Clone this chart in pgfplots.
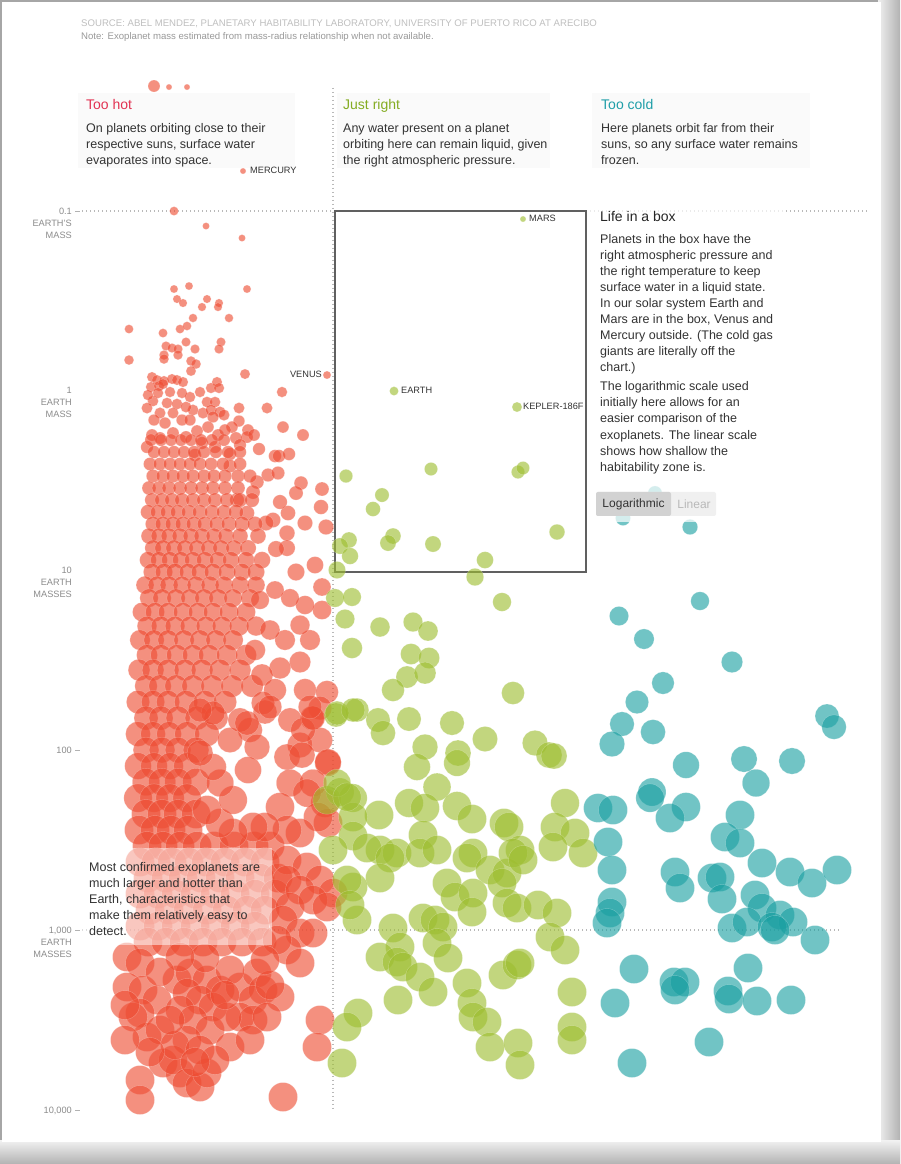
\documentclass[border=0pt]{standalone}
\usepackage{pgfplots}
\pgfplotsset{compat=1.18}
\usepackage{pgfplotstable}
\usepackage{fontspec}
\setmainfont{Liberation Sans}
\definecolor{redc}{RGB}{238,76,50}
\definecolor{greenc}{RGB}{158,190,48}
\definecolor{tealc}{RGB}{26,160,162}
\definecolor{hotc}{RGB}{226,50,82}
\definecolor{rightc}{RGB}{132,172,34}
\definecolor{coldc}{RGB}{30,158,168}
\definecolor{txt}{RGB}{51,51,51}
\definecolor{tickc}{RGB}{140,140,140}
\pgfplotsset{
  planet/.style={scatter, only marks, mark=*,
    scatter/use mapped color={draw=white, fill=#1},
    visualization depends on={3.5+11*(min(1,max(0.001,(\thisrow{py}-211)/600)))^1.5 \as \rad},
    scatter/@pre marker code/.append style={/tikz/mark size=\rad},
    mark options={fill opacity=0.62, draw opacity=0.3, line width=0.4pt}},
  fixedpl/.style 2 args={only marks, mark=*, mark size=#2,
    mark options={fill=#1, draw=white, fill opacity=0.62, draw opacity=0.3, line width=0.4pt}},
}
\tikzset{pix/.style={x=1pt,y=-1pt,yshift=1164pt}}
% px = horizontal position (left = close/hot), py = vertical position on the log mass scale
% log10(mass in Earth masses) = (py-390)/180
\pgfplotstableread[row sep=\\]{
px py\\
174 289\\ 189 286\\ 247 289\\ 177 299\\ 183 303\\ 202 307\\ 207 299\\ 219 303\\ 218 307\\ 193 318\\
229 318\\ 129 329\\ 163 333\\ 180 329\\ 187 326\\ 186 342\\ 166 346\\ 172 348\\ 178 349\\ 195 349\\
221 342\\ 219 349\\ 164 355\\ 178 355\\ 164 359\\ 129 360\\ 191 361\\ 196 364\\ 191 371\\ 245 374\\
152 377\\ 157 380\\ 164 381\\ 172 379\\ 177 380\\ 183 382\\ 151 387\\ 159 386\\ 163 384\\ 211 388\\
217 382\\ 219 388\\ 282 392\\ 190 397\\ 153 401\\ 167 403\\ 177 404\\ 207 402\\ 215 402\\ 239 408\\
267 408\\ 193 410\\ 203 413\\ 211 410\\ 220 412\\ 224 415\\ 213 417\\ 160 413\\ 173 413\\ 154 420\\
182 420\\ 190 420\\ 239 421\\ 283 427\\ 303 435\\ 232 427\\ 248 430\\ 247 437\\ 254 435\\ 236 438\\
208 427\\ 218 435\\ 197 431\\ 173 433\\ 147 447\\ 259 449\\ 275 456\\ 279 456\\ 289 454\\ 230 454\\
215 447\\ 202 443\\ 230 466\\ 268 475\\ 301 483\\ 278 473\\ 257 482\\ 322 489\\ 296 493\\ 321 507\\
305 523\\ 326 527\\ 288 513\\ 280 502\\ 273 520\\ 287 533\\ 287 548\\ 276 549\\ 315 565\\ 296 572\\
266 523\\ 253 492\\ 247 513\\ 237 500\\ 148 395\\ 158 393\\ 170 392\\ 182 393\\ 200 392\\ 147 408\\
186 407\\ 165 423\\ 152 435\\ 160 438\\ 186 437\\ 225 430\\ 195 455\\ 240 445\\
151 440\\ 161 440\\ 171 440\\ 181 440\\ 191 440\\ 201 440\\ 212 440\\ 224 440\\
154 452\\ 164 452\\ 174 452\\ 184 452\\ 194 452\\ 204 452\\ 216 452\\ 228 452\\ 240 452\\
150 464\\ 160 464\\ 170 464\\ 180 464\\ 190 464\\ 200 464\\ 211 464\\ 223 464\\ 240 464\\
153 476\\ 163 476\\ 173 476\\ 183 476\\ 193 476\\ 204 476\\ 214 476\\ 225 476\\ 238 476\\ 250 476\\
149 488\\ 159 488\\ 169 488\\ 180 488\\ 191 488\\ 202 488\\ 213 488\\ 225 488\\ 238 488\\
152 500\\ 162 500\\ 172 500\\ 182 500\\ 193 500\\ 204 500\\ 215 500\\ 227 500\\ 240 500\\ 252 500\\
148 512\\ 158 512\\ 168 512\\ 178 512\\ 189 512\\ 200 512\\ 212 512\\ 224 512\\ 236 512\\
153 524\\ 163 524\\ 173 524\\ 183 524\\ 194 524\\ 205 524\\ 217 524\\ 229 524\\ 242 524\\ 255 524\\
149 536\\ 159 536\\ 169 536\\ 180 536\\ 191 536\\ 202 536\\ 214 536\\ 226 536\\ 240 536\\ 258 536\\
153 548\\ 163 548\\ 174 548\\ 185 548\\ 197 548\\ 209 548\\ 221 548\\ 234 548\\ 248 548\\
148 560\\ 159 560\\ 170 560\\ 181 560\\ 193 560\\ 205 560\\ 218 560\\ 231 560\\ 246 560\\ 262 560\\
152 572\\ 164 572\\ 175 572\\ 188 572\\ 200 572\\ 213 572\\ 227 572\\ 242 572\\ 256 572\\
145 585\\ 157 585\\ 169 585\\ 182 585\\ 196 585\\ 210 585\\ 224 585\\ 240 585\\ 256 585\\
149 598\\ 162 598\\ 176 598\\ 190 598\\ 204 598\\ 218 598\\ 233 598\\ 250 598\\
142 612\\ 155 612\\ 168 612\\ 183 612\\ 198 612\\ 213 612\\ 229 612\\ 246 612\\
147 626\\ 161 626\\ 175 626\\ 190 626\\ 206 626\\ 222 626\\ 239 626\\ 256 626\\
140 640\\ 154 640\\ 168 640\\ 184 640\\ 200 640\\ 216 640\\ 233 640\\
147 655\\ 161 655\\ 177 655\\ 193 655\\ 209 655\\ 227 655\\ 246 655\\
139 670\\ 153 670\\ 168 670\\ 185 670\\ 202 670\\ 220 670\\ 240 670\\
146 686\\ 160 686\\ 176 686\\ 193 686\\ 212 686\\ 232 686\\ 252 686\\
138 702\\ 153 702\\ 168 702\\ 186 702\\ 205 702\\ 225 702\\
146 718\\ 161 718\\ 178 718\\ 197 718\\ 216 718\\
138 734\\ 153 734\\ 169 734\\ 187 734\\ 207 734\\
146 750\\ 162 750\\ 178 750\\ 196 750\\
138 766\\ 154 766\\ 170 766\\ 187 766\\
146 782\\ 162 782\\ 178 782\\ 196 782\\
138 798\\ 154 798\\ 170 798\\ 187 798\\
146 814\\ 162 814\\ 178 814\\ 196 814\\
139 830\\ 155 830\\ 171 830\\ 188 830\\
147 846\\ 163 846\\ 180 846\\ 197 846\\ 214 846\\ 234 846\\ 254 846\\ 270 846\\
140 862\\ 156 862\\ 172 862\\ 189 862\\ 206 862\\ 225 862\\ 245 862\\ 265 862\\
148 878\\ 166 878\\ 183 878\\ 201 878\\ 220 878\\ 240 878\\ 260 878\\ 278 878\\
140 894\\ 158 894\\ 176 894\\ 195 894\\ 215 894\\ 235 894\\ 255 894\\ 275 894\\
150 910\\ 169 910\\ 188 910\\ 207 910\\ 227 910\\ 247 910\\ 265 910\\
140 926\\ 158 926\\ 176 926\\ 195 926\\ 215 926\\ 235 926\\ 255 926\\
148 942\\ 166 942\\ 184 942\\ 203 942\\ 222 942\\ 242 942\\ 262 942\\
322 587\\ 322 610\\ 305 605\\ 290 598\\ 275 590\\ 260 600\\ 285 640\\ 310 640\\ 300 625\\ 270 630\\
255 650\\ 300 662\\ 280 668\\ 262 675\\ 275 690\\ 305 690\\ 327 692\\ 320 708\\ 290 720\\ 312 718\\
265 712\\ 250 730\\ 320 740\\ 300 745\\ 328 763\\ 325 803\\ 328 823\\
230 740\\ 257 747\\ 248 770\\ 287 757\\ 302 755\\ 328 762\\ 290 783\\ 313 783\\ 280 807\\ 307 793\\
318 817\\ 300 833\\ 287 830\\ 265 827\\ 253 827\\ 233 833\\ 220 823\\ 207 810\\ 233 800\\ 220 783\\
213 767\\ 200 753\\ 240 720\\ 247 723\\ 213 713\\ 200 710\\ 263 703\\ 270 707\\ 303 730\\ 313 718\\
310 707\\
287 860\\ 307 867\\ 320 880\\ 333 893\\ 287 880\\ 300 890\\ 290 907\\ 313 900\\ 327 907\\ 283 920\\
300 933\\ 313 933\\ 287 950\\ 300 963\\ 277 940\\
127 957\\ 140 963\\ 127 987\\ 143 990\\ 157 1000\\ 140 1013\\ 147 1037\\ 133 1017\\
177 980\\ 190 973\\ 207 980\\ 220 990\\ 187 993\\ 200 1000\\ 213 1007\\ 180 1010\\ 193 1020\\ 210 1030\\
187 1040\\ 230 1047\\ 240 987\\ 257 973\\ 263 990\\ 253 1000\\ 280 997\\ 240 1017\\ 253 1020\\ 267 1017\\
227 1017\\ 163 1063\\ 180 1073\\ 173 1060\\ 187 1083\\ 200 1087\\ 207 1073\\ 140 1080\\ 140 1100\\ 283 1097\\
320 1020\\ 317 1047\\
160 1030\\ 175 1045\\ 200 1050\\ 215 1060\\ 150 1052\\ 125 1040\\ 250 1040\\ 270 985\\ 230 970\\ 205 958\\
180 957\\ 160 972\\ 265 960\\ 125 1005\\ 170 1020\\ 225 995\\ 195 1062\\
}\hottab
\pgfplotstableread[row sep=\\]{
px py\\
431 469\\ 346 476\\ 518 472\\ 523 468\\ 382 495\\ 373 509\\ 393 536\\ 388 543\\ 433 544\\ 349 540\\
340 546\\ 350 556\\ 485 560\\ 557 532\\ 337 570\\ 475 577\\ 502 602\\ 335 598\\ 352 597\\ 345 619\\
380 627\\ 413 622\\ 428 631\\ 352 648\\ 411 654\\ 429 658\\ 407 677\\ 425 673\\ 393 690\\ 513 693\\
336 715\\ 357 710\\ 378 720\\ 383 733\\ 409 719\\ 452 723\\ 485 739\\ 425 747\\ 458 753\\ 457 763\\
535 743\\ 549 755\\ 554 756\\ 417 767\\ 437 787\\ 340 792\\ 327 800\\ 353 798\\ 409 803\\ 425 808\\
379 815\\ 457 806\\ 472 819\\ 353 817\\ 565 803\\ 504 823\\ 509 827\\ 555 827\\ 575 833\\ 353 836\\
423 835\\ 333 850\\ 380 850\\ 397 853\\ 420 853\\ 437 850\\ 473 853\\ 520 850\\ 553 847\\ 583 853\\
367 848\\ 390 858\\ 467 858\\ 490 870\\ 507 873\\ 513 853\\ 523 860\\ 380 878\\ 353 887\\ 447 883\\
455 897\\ 473 893\\ 502 883\\ 507 903\\ 517 908\\ 538 905\\ 557 913\\ 357 920\\ 423 918\\ 435 920\\
443 927\\ 472 912\\ 393 928\\ 400 947\\ 380 957\\ 397 962\\ 403 967\\ 420 977\\ 433 992\\ 398 1000\\
437 943\\ 448 958\\ 467 983\\ 472 1003\\ 473 1017\\ 487 1022\\ 490 1047\\ 518 1043\\ 520 1065\\ 503 975\\
517 965\\ 520 963\\ 550 937\\ 565 950\\ 572 992\\ 572 1027\\ 572 1040\\ 358 1013\\ 347 1027\\ 342 1063\\
337 783\\ 347 797\\ 347 880\\ 350 905\\ 337 713\\ 353 710\\
}\righttab
\pgfplotstableread[row sep=\\]{
px py\\
655 493\\ 623 518\\ 690 527\\ 700 601\\ 619 616\\ 644 639\\ 732 662\\ 663 683\\ 637 702\\ 622 724\\
653 732\\ 612 744\\ 827 716\\ 834 727\\ 686 765\\ 744 759\\ 756 783\\ 792 761\\ 652 792\\ 650 798\\
686 807\\ 598 808\\ 613 810\\ 670 818\\ 740 815\\ 725 837\\ 740 843\\ 762 863\\ 790 872\\ 812 883\\
837 870\\ 608 842\\ 612 870\\ 675 872\\ 680 888\\ 712 878\\ 720 877\\ 722 899\\ 755 895\\ 762 908\\
780 915\\ 793 922\\ 612 902\\ 610 913\\ 607 923\\ 732 928\\ 747 922\\ 772 927\\ 775 930\\ 815 940\\
634 969\\ 674 982\\ 685 982\\ 675 990\\ 748 968\\ 728 991\\ 729 999\\ 757 1001\\ 791 1000\\ 615 1003\\
709 1042\\ 632 1063\\
}\coldtab
\begin{document}
\begin{tikzpicture}
% frame and background
\begin{scope}[pix]
\fill[gray!70] (0,0) rectangle (900,1164);
\shade[left color=gray!12, right color=gray!60] (878,0) rectangle (900,1164);
\shade[top color=gray!12, bottom color=gray!60] (0,1141) rectangle (900,1164);
\fill[white] (2,2) rectangle (881,1142);
% faint header panels
\fill[black!2] (78,93) rectangle (295,168);
\fill[black!2] (337,93) rectangle (550,168);
\fill[black!2] (592,93) rectangle (810,168);
% dotted guide lines
\draw[gray!55, line width=1.1pt, dash pattern=on 1pt off 3pt] (333,88) -- (333,1110);
\draw[gray!55, line width=1.1pt, dash pattern=on 1pt off 3pt] (82,211) -- (870,211);
\draw[gray!55, line width=1.1pt, dash pattern=on 1pt off 3pt] (82,930) -- (840,930);
% tick dashes
\foreach \yy in {211,750,930,1110} \draw[gray!60, line width=0.7pt] (75,\yy) -- (80,\yy);
% the box
\draw[gray!75!black, line width=1.6pt] (335,211) rectangle (586,572);
\end{scope}
\begin{axis}[at={(0,0)}, anchor=south west, scale only axis, width=900pt, height=1164pt,
  xmin=0, xmax=900, ymin=-2.1666667, ymax=4.3, y dir=reverse,
  enlargelimits=false, hide axis, clip=false]
\addplot[planet=redc] table[x=px, y expr=(\thisrow{py}-390)/180] {\hottab};
\addplot[planet=greenc] table[x=px, y expr=(\thisrow{py}-390)/180] {\righttab};
\addplot[planet=tealc] table[x=px, y expr=(\thisrow{py}-390)/180] {\coldtab};
% named and small planets
\addplot[fixedpl={redc}{6}] table[row sep=\\, x=px, y expr=(\thisrow{py}-390)/180] {px py\\ 154 86\\};
\addplot[fixedpl={redc}{3}] table[row sep=\\, x=px, y expr=(\thisrow{py}-390)/180] {px py\\ 169 87\\ 187 87\\ 243 171\\};
\addplot[fixedpl={redc}{4.5}] table[row sep=\\, x=px, y expr=(\thisrow{py}-390)/180] {px py\\ 174 211\\};
\addplot[fixedpl={redc}{3.5}] table[row sep=\\, x=px, y expr=(\thisrow{py}-390)/180] {px py\\ 206 226\\ 242 238\\};
\addplot[fixedpl={redc}{4}] table[row sep=\\, x=px, y expr=(\thisrow{py}-390)/180] {px py\\ 327 375\\};
\addplot[fixedpl={greenc}{3}] table[row sep=\\, x=px, y expr=(\thisrow{py}-390)/180] {px py\\ 523 219\\};
\addplot[fixedpl={greenc}{4.5}] table[row sep=\\, x=px, y expr=(\thisrow{py}-390)/180] {px py\\ 394 391\\};
\addplot[fixedpl={greenc}{5}] table[row sep=\\, x=px, y expr=(\thisrow{py}-390)/180] {px py\\ 517 407\\};
\end{axis}
\begin{scope}[pix]
% translucent panels
\fill[white, fill opacity=0.7] (590,205) rectangle (786,522);
\fill[white, fill opacity=0.5] (82,848) rectangle (272,945);
% source
\node[anchor=base west, inner sep=0, font=\fontsize{9.6}{11}\selectfont, text=gray!50] at (81,27) {SOURCE: ABEL MENDEZ, PLANETARY HABITABILITY LABORATORY, UNIVERSITY OF PUERTO RICO AT ARECIBO};
\node[anchor=base west, inner sep=0, font=\fontsize{9.6}{11}\selectfont, text=gray!80] at (81,40) {Note: Exoplanet mass estimated from mass-radius relationship when not available.};
% headers
\node[anchor=base west, inner sep=0, font=\fontsize{14}{16}\selectfont, text=hotc] at (86,110) {Too hot};
\node[anchor=base west, inner sep=0, font=\fontsize{14}{16}\selectfont, text=rightc] at (343,110) {Just right};
\node[anchor=base west, inner sep=0, font=\fontsize{14}{16}\selectfont, text=coldc] at (601,110) {Too cold};
% (multi-line nodes: anchor base = baseline of the last line)
\node[anchor=base west, inner sep=0, align=left, font=\fontsize{12.5}{16}\selectfont, text=txt] at (86,164.5) {On planets orbiting close to their\\respective suns, surface water\\evaporates into space.};
\node[anchor=base west, inner sep=0, align=left, font=\fontsize{12.5}{16}\selectfont, text=txt] at (343,164.5) {Any water present on a planet\\orbiting here can remain liquid, given\\the right atmospheric pressure.};
\node[anchor=base west, inner sep=0, align=left, font=\fontsize{12.5}{16}\selectfont, text=txt] at (601,164.5) {Here planets orbit far from their\\suns, so any surface water remains\\frozen.};
% life in a box
\node[anchor=base west, inner sep=0, font=\fontsize{14}{16}\selectfont, text=black!85] at (600,222) {Life in a box};
\node[anchor=base west, inner sep=0, align=left, font=\fontsize{12.5}{16}\selectfont, text=txt] at (600,371.5) {Planets in the box have the\\right atmospheric pressure and\\the right temperature to keep\\surface water in a liquid state.\\In our solar system Earth and\\Mars are in the box, Venus and\\Mercury outside. (The cold gas\\giants are literally off the\\chart.)};
\node[anchor=base west, inner sep=0, align=left, font=\fontsize{12.5}{16.2}\selectfont, text=txt] at (600,471.5) {The logarithmic scale used\\initially here allows for an\\easier comparison of the\\exoplanets. The linear scale\\shows how shallow the\\habitability zone is.};
% button
\fill[gray!12, rounded corners=2pt] (596,492) rectangle (716,516);
\fill[gray!35, rounded corners=2pt] (596,492) rectangle (671,516);
\node[font=\fontsize{12}{14}\selectfont, text=txt, inner sep=0] at (633.5,504) {Logarithmic};
\node[font=\fontsize{12}{14}\selectfont, text=gray!55, inner sep=0] at (694,504) {Linear};
% annotation
\node[anchor=base west, inner sep=0, align=left, font=\fontsize{12.5}{16}\selectfont, text=txt] at (89,935.5) {Most confirmed exoplanets are\\much larger and hotter than\\Earth, characteristics that\\make them relatively easy to\\detect.};
% planet names
\node[anchor=base west, inner sep=0, font=\fontsize{9.2}{10}\selectfont, text=txt] at (250,174) {MERCURY};
\node[anchor=base east, inner sep=0, font=\fontsize{9.2}{10}\selectfont, text=txt] at (322,378) {VENUS};
\node[anchor=base west, inner sep=0, font=\fontsize{9.2}{10}\selectfont, text=txt] at (401,394) {EARTH};
\node[anchor=base west, inner sep=0, font=\fontsize{9.2}{10}\selectfont, text=txt] at (529,222) {MARS};
\node[anchor=base west, inner sep=0, font=\fontsize{9.2}{10}\selectfont, text=txt] at (523,410) {KEPLER-186F};
% tick labels
\node[anchor=base east, inner sep=0, align=right, font=\fontsize{9.2}{12}\selectfont, text=tickc] at (72,238.5) {0.1\\EARTH'S\\MASS};
\node[anchor=base east, inner sep=0, align=right, font=\fontsize{9.2}{12}\selectfont, text=tickc] at (72,417.5) {1\\EARTH\\MASS};
\node[anchor=base east, inner sep=0, align=right, font=\fontsize{9.2}{12}\selectfont, text=tickc] at (72,597.5) {10\\EARTH\\MASSES};
\node[anchor=base east, inner sep=0, align=right, font=\fontsize{9.2}{12}\selectfont, text=tickc] at (72,753.5) {100};
\node[anchor=base east, inner sep=0, align=right, font=\fontsize{9.2}{12}\selectfont, text=tickc] at (72,957.5) {1,000\\EARTH\\MASSES};
\node[anchor=base east, inner sep=0, align=right, font=\fontsize{9.2}{12}\selectfont, text=tickc] at (72,1113.5) {10,000};
\end{scope}
\end{tikzpicture}
\end{document}
